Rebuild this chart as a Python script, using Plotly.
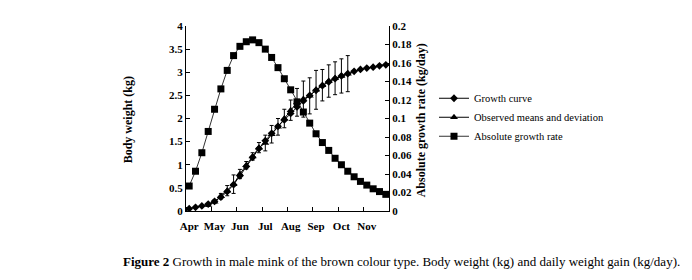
import plotly.graph_objects as go

# ---- data ----
week_index = list(range(32))
month_labels = ["Apr", "May", "Jun", "Jul", "Aug", "Sep", "Oct", "Nov"]
month_positions = [0, 4, 8, 12, 16, 20, 24, 28]

growth_curve = [0.05, 0.08, 0.11, 0.15, 0.21, 0.30, 0.42, 0.57, 0.76, 0.96,
                1.16, 1.35, 1.52, 1.68, 1.83, 1.97, 2.11, 2.25, 2.38, 2.50,
                2.61, 2.71, 2.79, 2.86, 2.92, 2.97, 3.02, 3.06, 3.09, 3.11,
                3.14, 3.16]

observed_index = list(range(3, 26))
observed_mean = [0.13, 0.20, 0.32, 0.44, 0.58, 0.80, 0.99, 1.18, 1.37, 1.47,
                 1.66, 1.82, 2.00, 2.18, 2.35, 2.42, 2.49, 2.62, 2.72, 2.81,
                 2.87, 2.92, 2.97]
observed_sd = [0.03, 0.04, 0.06, 0.11, 0.20, 0.10, 0.08, 0.08, 0.11, 0.17,
               0.19, 0.18, 0.20, 0.22, 0.30, 0.39, 0.39, 0.42, 0.34, 0.35,
               0.355, 0.37, 0.39]

growth_rate = [0.027, 0.043, 0.063, 0.086, 0.110, 0.132, 0.152, 0.168, 0.178,
               0.183, 0.185, 0.182, 0.175, 0.166, 0.155, 0.143, 0.131, 0.118,
               0.107, 0.095, 0.0835, 0.074, 0.0655, 0.057, 0.050, 0.043, 0.037,
               0.032, 0.028, 0.024, 0.021, 0.018]

left_ticks = [0, 0.5, 1, 1.5, 2, 2.5, 3, 3.5, 4]
left_ticktext = ["0", "0.5", "1", "1.5", "2", "2.5", "3", "3.5", "4"]
right_ticks = [0, 0.02, 0.04, 0.06, 0.08, 0.1, 0.12, 0.14, 0.16, 0.18, 0.2]
right_ticktext = ["0", "0.02", "0.04", "0.06", "0.08", "0.1", "0.12", "0.14",
                  "0.16", "0.18", "0.2"]

FONT = "Liberation Serif"
TICKFONT = dict(family=FONT, size=11, color="black", weight="bold")

fig = go.Figure()
fig.add_trace(go.Scatter(
    x=week_index, y=growth_curve, name="Growth curve",
    mode="lines+markers",
    line=dict(color="black", width=1),
    marker=dict(symbol="diamond", size=6, color="black"),
))
fig.add_trace(go.Scatter(
    x=observed_index, y=observed_mean, name="Observed means and deviation",
    mode="lines+markers",
    line=dict(color="black", width=1),
    marker=dict(symbol="triangle-up", size=7, color="black"),
    error_y=dict(type="data", array=observed_sd, visible=True,
                 color="black", thickness=1, width=2),
))
fig.add_trace(go.Scatter(
    x=week_index, y=growth_rate, name="Absolute growth rate",
    mode="lines+markers", yaxis="y2",
    line=dict(color="#333333", width=1),
    marker=dict(symbol="square", size=7, color="black"),
))

fig.update_layout(
    width=692, height=280,
    margin=dict(l=178, r=311, t=14, b=77),
    paper_bgcolor="white", plot_bgcolor="white",
    font=dict(family=FONT, color="black"),
    showlegend=True,
    legend=dict(x=(426 - 178) / 203, y=(203 - 73) / 189,
                xanchor="left", yanchor="top",
                font=dict(family=FONT, size=10.5, color="black"),
                itemwidth=30, bgcolor="rgba(0,0,0,0)"),
    xaxis=dict(
        range=[-0.5, 31.5], showgrid=False, zeroline=False,
        showline=True, linecolor="black", linewidth=1,
        tickmode="array", tickvals=month_positions, ticktext=month_labels,
        ticks="", tickfont=TICKFONT, ticklabelstandoff=5,
        minor=dict(tickmode="linear", tick0=-0.5, dtick=4, ticks="inside",
                   ticklen=4, tickcolor="black", tickwidth=1, showgrid=False),
    ),
    yaxis=dict(
        range=[0, 4], showgrid=False, zeroline=False,
        showline=True, linecolor="black", linewidth=1,
        tickmode="array", tickvals=left_ticks, ticktext=left_ticktext,
        ticks="inside", ticklen=4, tickcolor="black",
        tickfont=TICKFONT,
    ),
    yaxis2=dict(
        range=[0, 0.2], overlaying="y", side="right", anchor="x",
        showgrid=False, zeroline=False,
        showline=True, linecolor="black", linewidth=1,
        tickmode="array", tickvals=right_ticks, ticktext=right_ticktext,
        ticks="inside", ticklen=4, tickcolor="black",
        tickfont=TICKFONT,
    ),
    annotations=[
        dict(text="<b>Body weight (kg)</b>", textangle=-90,
             xref="paper", yref="paper", x=(120 - 178) / 203, y=0.49,
             xanchor="center", yanchor="middle", showarrow=False,
             font=dict(family=FONT, size=12, color="black")),
        dict(text="<b>Absolute growth rate (kg/day)</b>", textangle=-90,
             xref="paper", yref="paper", x=(413 - 178) / 203, y=0.49,
             xanchor="center", yanchor="middle", showarrow=False,
             font=dict(family=FONT, size=12, color="black")),
        dict(text="<b>Figure 2</b> Growth in male mink of the brown colour type. "
                  "Body weight (kg) and daily weight gain (kg/day).",
             xref="paper", yref="paper", x=(113 - 178) / 203,
             y=(203 - 255) / 189, xanchor="left", yanchor="middle",
             showarrow=False,
             font=dict(family=FONT, size=13, color="black")),
    ],
)

fig.write_html("out.html")
